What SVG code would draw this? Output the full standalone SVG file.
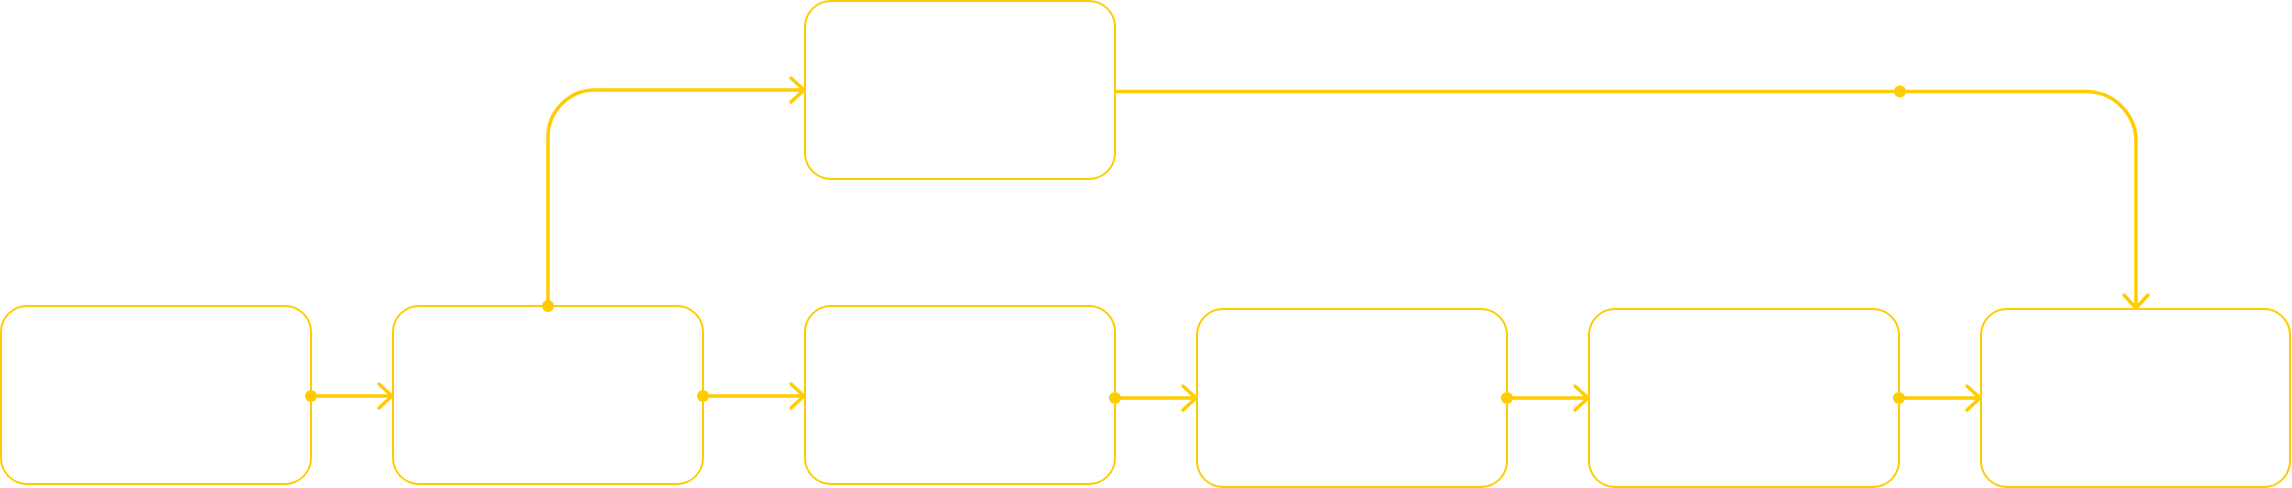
<svg xmlns="http://www.w3.org/2000/svg" width="2292" height="488" viewBox="0 0 2292 488">
  <style>
    .node { fill: #ffffff; stroke: #FFCC00; stroke-width: 2; }
    .edge { fill: none; stroke: #FFCC00; stroke-width: 3.5; }
    .dot { fill: #FFCC00; }
  </style>
  <defs>
    <marker id="arrow" markerUnits="userSpaceOnUse" markerWidth="30" markerHeight="30" viewBox="-16 -15 20 30" refX="0" refY="0" orient="auto">
      <path d="M-13,-12 L0,0 L-13,12" fill="none" stroke="#FFCC00" stroke-width="3.5" stroke-linecap="round" stroke-linejoin="round"/>
    </marker>
  </defs>
  <rect width="2292" height="488" fill="#ffffff"/>
  <g id="node-top"><rect class="node" x="805" y="1" width="310" height="178" rx="26"/></g>
  <g id="node-1"><rect class="node" x="1" y="306" width="310" height="178" rx="26"/></g>
  <g id="node-2"><rect class="node" x="393" y="306" width="310" height="178" rx="26"/></g>
  <g id="node-3"><rect class="node" x="805" y="306" width="310" height="178" rx="26"/></g>
  <g id="node-4"><rect class="node" x="1197" y="309" width="310" height="178" rx="26"/></g>
  <g id="node-5"><rect class="node" x="1589" y="309" width="310" height="178" rx="26"/></g>
  <g id="node-6"><rect class="node" x="1981" y="309" width="309" height="178" rx="26"/></g>
  <g id="connectors">
    <path class="edge" d="M311,396 H392" marker-end="url(#arrow)"/>
    <path class="edge" d="M703,396 H804" marker-end="url(#arrow)"/>
    <path class="edge" d="M1115,398 H1196" marker-end="url(#arrow)"/>
    <path class="edge" d="M1507,398 H1588" marker-end="url(#arrow)"/>
    <path class="edge" d="M1899,398 H1980" marker-end="url(#arrow)"/>
    <path class="edge" d="M548,306 V137 A47,47 0 0 1 595,90 H804" marker-end="url(#arrow)"/>
    <path class="edge" d="M1115,91.5 H2086 A50,50 0 0 1 2136,141.5 V308" marker-end="url(#arrow)"/>
    <circle class="dot" cx="311" cy="396" r="6"/>
    <circle class="dot" cx="703" cy="396" r="6"/>
    <circle class="dot" cx="1115" cy="398" r="6"/>
    <circle class="dot" cx="1507" cy="398" r="6"/>
    <circle class="dot" cx="1899" cy="398" r="6"/>
    <circle class="dot" cx="548" cy="306" r="6"/>
    <circle class="dot" cx="1900" cy="91.5" r="6"/>
  </g>
</svg>
